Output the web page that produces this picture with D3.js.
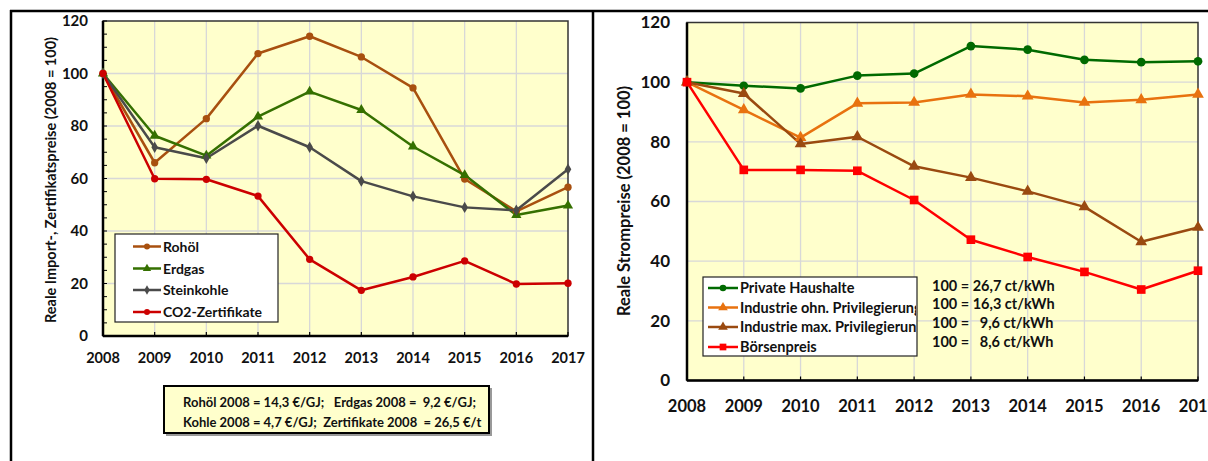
<!DOCTYPE html>
<html>
<head>
<meta charset="utf-8">
<script src="https://cdn.jsdelivr.net/npm/d3@7"></script>
<style>
  body { margin: 0; background: #fff; }
  svg text { font-family: Lato, "Open Sans", sans-serif; font-weight: bold; fill: #111; }
</style>
</head>
<body>
<svg id="chart" width="1208" height="461"></svg>
<script>
// data
var years = [2008, 2009, 2010, 2011, 2012, 2013, 2014, 2015, 2016, 2017];
var yTicks = [0, 20, 40, 60, 80, 100, 120];

var rohoel     = [100, 66.0, 82.8, 107.6, 114.2, 106.3, 94.5, 59.8, 47.5, 56.7];
var erdgas     = [100, 76.3, 68.7, 83.6, 93.1, 86.1, 72.2, 61.3, 46.1, 49.7];
var steinkohle = [100, 71.9, 67.7, 80.1, 71.9, 59.0, 53.2, 49.0, 47.9, 63.5];
var co2        = [100, 59.9, 59.7, 53.3, 29.2, 17.4, 22.5, 28.6, 19.8, 20.1];

var haushalte   = [100, 98.8, 97.9, 102.2, 102.9, 112.1, 110.9, 107.5, 106.7, 107.0];
var indOhne     = [100, 90.7, 81.4, 92.9, 93.2, 95.9, 95.3, 93.2, 94.1, 95.9];
var indMax      = [100, 96.2, 79.3, 81.7, 71.8, 68.0, 63.4, 58.2, 46.5, 51.3];
var boerse      = [100, 70.6, 70.6, 70.3, 60.5, 47.2, 41.4, 36.4, 30.5, 36.8];

var leftSeries = [
  {name: "Rohöl", values: rohoel, color: "#A8500F", marker: "circle"},
  {name: "Erdgas", values: erdgas, color: "#357000", marker: "triangle"},
  {name: "Steinkohle", values: steinkohle, color: "#4A4A4A", marker: "diamond"},
  {name: "CO2-Zertifikate", values: co2, color: "#CC0000", marker: "circle"}
];
var rightSeries = [
  {name: "Private Haushalte", values: haushalte, color: "#006A00", marker: "circle"},
  {name: "Industrie ohn. Privilegierung", values: indOhne, color: "#E8720F", marker: "triangle"},
  {name: "Industrie max. Privilegierung", values: indMax, color: "#9A4A10", marker: "triangle"},
  {name: "Börsenpreis", values: boerse, color: "#FF0000", marker: "square"}
];
var leftNote = ["Rohöl 2008 = 14,3 €/GJ;   Erdgas 2008 =  9,2 €/GJ;",
                "Kohle 2008 = 4,7 €/GJ;  Zertifikate 2008  = 26,5 €/t"];
var rightNote = ["100 = 26,7 ct/kWh", "100 = 16,3 ct/kWh", "100 =   9,6 ct/kWh", "100 =   8,6 ct/kWh"];

var svg = d3.select("#chart");

// outer frame lines
svg.append("line").attr("x1", 10).attr("x2", 1208).attr("y1", 11).attr("y2", 11)
  .attr("stroke", "#000").attr("stroke-width", 2.5);
svg.append("line").attr("x1", 11).attr("x2", 11).attr("y1", 10).attr("y2", 461)
  .attr("stroke", "#000").attr("stroke-width", 2.5);
svg.append("line").attr("x1", 593).attr("x2", 593).attr("y1", 10).attr("y2", 461)
  .attr("stroke", "#000").attr("stroke-width", 2.5);

function markerPath(type, size) {
  var sym = {circle: d3.symbolCircle, triangle: d3.symbolTriangle,
             diamond: d3.symbolDiamond, square: d3.symbolSquare}[type];
  return d3.symbol().type(sym).size(size)();
}

function drawChart(opt) {
  var x = d3.scaleLinear().domain([2008, 2017]).range(opt.xRange);
  var y = d3.scaleLinear().domain([0, 120]).range(opt.yRange);
  var g = svg.append("g");
  var x0 = opt.xRange[0], x1 = opt.xRange[1], y0 = opt.yRange[0], y1 = opt.yRange[1];

  g.append("rect").attr("x", x0).attr("y", y1).attr("width", x1 - x0).attr("height", y0 - y1)
    .attr("fill", "#FFFFCC");

  // grid
  g.selectAll(".vg").data(years.slice(1, -1)).join("line")
    .attr("x1", d => x(d)).attr("x2", d => x(d)).attr("y1", y0).attr("y2", y1)
    .attr("stroke", "#D8D8D8").attr("stroke-width", 1.3);
  g.selectAll(".hg").data(yTicks.slice(1, -1)).join("line")
    .attr("x1", x0).attr("x2", x1).attr("y1", d => y(d)).attr("y2", d => y(d))
    .attr("stroke", "#D8D8D8").attr("stroke-width", 1.3);

  // plot border
  g.append("rect").attr("x", x0).attr("y", y1).attr("width", x1 - x0).attr("height", y0 - y1)
    .attr("fill", "none").attr("stroke", "#333").attr("stroke-width", 1.5);

  // minor / major ticks (inward)
  if (opt.minor) {
    g.selectAll(".mt").data(d3.range(0, 121, 5)).join("line")
      .attr("x1", x0).attr("x2", x0 + 4).attr("y1", d => y(d)).attr("y2", d => y(d))
      .attr("stroke", "#000").attr("stroke-width", 1);
  }
  g.selectAll(".xt").data(years).join("line")
    .attr("x1", d => x(d)).attr("x2", d => x(d)).attr("y1", y0).attr("y2", y0 - 4)
    .attr("stroke", "#000").attr("stroke-width", 1.2);

  // axis lines
  g.append("line").attr("x1", x0).attr("x2", x0).attr("y1", y1).attr("y2", y0)
    .attr("stroke", "#000").attr("stroke-width", 2.5);
  g.append("line").attr("x1", x0).attr("x2", x1).attr("y1", y0).attr("y2", y0)
    .attr("stroke", "#000").attr("stroke-width", 2.5);

  // tick labels
  g.selectAll(".yl").data(yTicks).join("text")
    .attr("x", x0 - opt.yLabelOff).attr("y", d => y(d)).attr("dy", "0.35em")
    .attr("text-anchor", "end").style("font-size", opt.yFont)
    .text(d => d);
  g.selectAll(".xl").data(years).join("text")
    .attr("x", d => x(d)).attr("y", y0 + opt.xLabelOff)
    .attr("text-anchor", "middle").style("font-size", opt.xFont)
    .text(d => d);

  // y title
  g.append("text")
    .attr("transform", "translate(" + opt.titleX + "," + opt.titleY + ") rotate(-90)")
    .attr("text-anchor", "middle").style("font-size", opt.titleFont)
    .text(opt.title);

  // series
  var line = d3.line().x((d, i) => x(years[i])).y(d => y(d));
  opt.series.forEach(function(s) {
    g.append("path").datum(s.values).attr("d", line)
      .attr("fill", "none").attr("stroke", s.color).attr("stroke-width", 2.5)
      .attr("stroke-linejoin", "round");
  });
  opt.series.forEach(function(s) {
    g.selectAll(null).data(s.values).join("path")
      .attr("transform", (d, i) => "translate(" + x(years[i]) + "," + y(d) + ")")
      .attr("d", markerPath(s.marker, opt.markerSize[s.marker]))
      .attr("fill", s.color);
  });
  return g;
}

function drawLegend(series, box, rowY, lineX, markerSize, fontSize, clip) {
  var lg = svg.append("g");
  lg.append("rect").attr("x", box[0]).attr("y", box[1]).attr("width", box[2]).attr("height", box[3])
    .attr("fill", "#fff").attr("stroke", "#222").attr("stroke-width", 1.2);
  if (clip) {
    svg.append("clipPath").attr("id", clip).append("rect")
      .attr("x", box[0]).attr("y", box[1]).attr("width", box[2] - 1).attr("height", box[3]);
  }
  series.forEach(function(s, i) {
    var yy = rowY[i];
    lg.append("line").attr("x1", lineX[0]).attr("x2", lineX[1]).attr("y1", yy).attr("y2", yy)
      .attr("stroke", s.color).attr("stroke-width", 2.5);
    lg.append("path").attr("transform", "translate(" + (lineX[0] + lineX[1]) / 2 + "," + yy + ")")
      .attr("d", markerPath(s.marker, markerSize[s.marker])).attr("fill", s.color);
    var t = lg.append("text").attr("x", lineX[1] + 2).attr("y", yy).attr("dy", "0.36em")
      .style("font-size", fontSize).text(s.name);
    if (clip) t.attr("clip-path", "url(#" + clip + ")");
  });
}

drawChart({
  xRange: [103, 568], yRange: [336, 21], minor: true,
  yLabelOff: 15, xLabelOff: 27, yFont: "15px", xFont: "14.5px",
  title: "Reale Import-, Zertifikatspreise (2008 = 100)", titleX: 56, titleY: 180, titleFont: "14.5px",
  series: leftSeries,
  markerSize: {circle: 42, triangle: 45, diamond: 38, square: 50}
});
drawLegend(leftSeries, [115, 234, 163, 88], [246.5, 268.5, 290, 312], [133, 161],
  {circle: 28, triangle: 30, diamond: 26, square: 30}, "14px", null);

// note box under the left chart
svg.append("rect").attr("x", 166).attr("y", 388).attr("width", 326).attr("height", 48)
  .attr("fill", "#999");
svg.append("rect").attr("x", 164).attr("y", 386).attr("width", 325).attr("height", 47)
  .attr("fill", "#FFFFCC").attr("stroke", "#000").attr("stroke-width", 2);
svg.selectAll(".ln").data(leftNote).join("text")
  .attr("x", 183).attr("y", (d, i) => 402 + i * 20).attr("dy", "0.35em")
  .style("font-size", "13px").style("white-space", "pre")
  .text(d => d);

drawChart({
  xRange: [687, 1198], yRange: [380.5, 22.5], minor: false,
  yLabelOff: 17, xLabelOff: 31, yFont: "17px", xFont: "16.5px",
  title: "Reale Strompreise (2008 = 100)", titleX: 630, titleY: 201, titleFont: "16.5px",
  series: rightSeries,
  markerSize: {circle: 60, triangle: 60, diamond: 50, square: 75}
});
drawLegend(rightSeries, [703, 277, 214, 79], [288, 307.5, 327, 347], [708, 738],
  {circle: 34, triangle: 40, diamond: 30, square: 45}, "14.5px", "rclip");

svg.selectAll(".rn").data(rightNote).join("text")
  .attr("x", 932).attr("y", (d, i) => [286, 303.5, 323, 341.5][i]).attr("dy", "0.35em")
  .style("font-size", "14.5px").style("white-space", "pre")
  .text(d => d);
</script>
</body>
</html>
